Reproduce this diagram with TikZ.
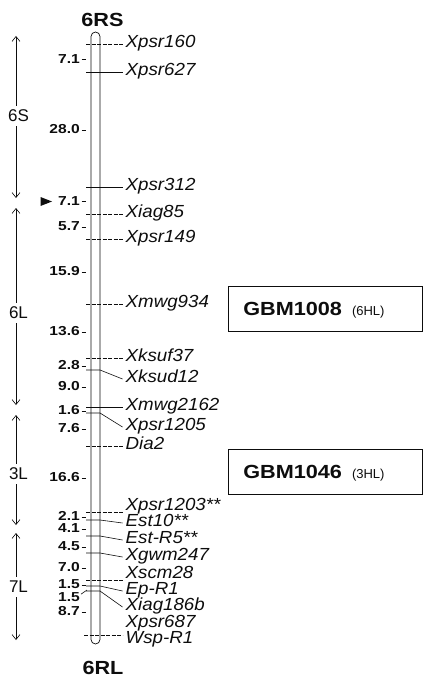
\documentclass[tikz,border=0pt]{standalone}
\usepackage{fontspec}
\setmainfont{Liberation Sans}
\newfontfamily\markfont[FakeStretch=1.07]{Liberation Sans}
\newfontfamily\distfont[FakeStretch=1.2]{Liberation Sans}
\newfontfamily\headfont[FakeStretch=1.14]{Liberation Sans}
\usetikzlibrary{arrows.meta, positioning}
\definecolor{mapInk}{gray}{0.05}

\tikzset{
  chromo/.style={draw, line width=0.7pt, rounded corners=4.5pt, minimum width=9pt, minimum height=612pt, inner sep=0pt},
  locus/.style={anchor=west, inner xsep=3pt, inner ysep=0pt, text height=0.72em, text depth=0pt, font=\markfont\itshape\fontsize{17.5}{17.5}\selectfont},
  dist/.style={anchor=east, inner sep=0pt, text height=0.72em, text depth=0pt, font=\distfont\bfseries\fontsize{13}{13}\selectfont},
  armlabel/.style={inner xsep=1pt, inner ysep=4pt, font=\fontsize{17}{17}\selectfont},
  armarrow/.style={-{Straight Barb[length=5pt,width=8pt]}, line width=0.6pt},
  endlabel/.style={inner sep=0pt, font=\headfont\bfseries\fontsize{19}{19}\selectfont},
  gbmbox/.style={draw, line width=0.6pt, anchor=west, minimum width=194pt, minimum height=45pt, text width=164pt, inner xsep=15pt, align=left, text height=13.7pt, text depth=0pt},
  link/.style={line width=0.6pt},
  faint/.style={line width=0.6pt, dash pattern=on 4pt off 1.5pt},
}
\newcommand{\gbmname}[1]{{\headfont\bfseries\fontsize{19}{19}\selectfont #1}}
\newcommand{\gbmtag}[1]{{\fontsize{13}{13}\selectfont #1}}

\begin{document}
\begin{tikzpicture}[x=1pt, y=-1pt, mapInk]
    \useasboundingbox (0,0) rectangle (423,682);

    % chromosome 6R
    \node[chromo] (chrom) at (95.5,338) {};
    \node[endlabel, above=5pt of chrom.north, xshift=7pt] (rs) {6RS};
    \node[endlabel, below=17pt of chrom.south, xshift=7.5pt] (rl) {6RL};

    % loci
    \node[locus] (psr160)  at (122.5,44)  {Xpsr160};
    \node[locus] (psr627)  at (122.5,72)  {Xpsr627};
    \node[locus] (psr312)  at (122.5,187) {Xpsr312};
    \node[locus] (iag85)   at (122.5,214) {Xiag85};
    \node[locus] (psr149)  at (122.5,239) {Xpsr149};
    \node[locus] (mwg934)  at (122.5,304) {Xmwg934};
    \node[locus] (ksuf37)  at (122.5,358) {Xksuf37};
    \node[locus] (ksud12)  at (122.5,379) {Xksud12};
    \node[locus] (mwg2162) at (122.5,407) {Xmwg2162};
    \node[locus] (psr1205) at (122.5,427) {Xpsr1205};
    \node[locus] (dia2)    at (122.5,446) {Dia2};
    \node[locus] (psr1203) at (122.5,507) {Xpsr1203**};
    \node[locus] (est10)   at (122.5,523) {Est10**};
    \node[locus] (estR5)   at (122.5,540) {Est-R5**};
    \node[locus] (gwm247)  at (122.5,557) {Xgwm247};
    \node[locus] (scm28)   at (122.5,575) {Xscm28};
    \node[locus] (epR1)    at (122.5,591) {Ep-R1};
    \node[locus] (iag186b) at (122.5,607) {Xiag186b};
    \node[locus] (psr687)  at (122.5,624) {Xpsr687};
    \node[locus] (wspR1)   at (122.5,640) {Wsp-R1};

    \draw[faint] (86,44)  -- (psr160.west);
    \draw[link]  (86,72)  -- (psr627.west);
    \draw[link]  (86,187) -- (psr312.west);
    \draw[faint] (86,214) -- (iag85.west);
    \draw[faint] (86,239) -- (psr149.west);
    \draw[faint] (86,304) -- (mwg934.west);
    \draw[faint] (86,358) -- (ksuf37.west);
    \draw[link]  (86,370) -- (100,370) -- (ksud12.west);
    \draw[link]  (86,407) -- (mwg2162.west);
    \draw[link]  (86,413) -- (100,413) -- (psr1205.west);
    \draw[faint] (86,446) -- (dia2.west);
    \draw[faint] (86,512) -- (psr1203.west |- 0,512);
    \draw[link]  (86,520) -- (100,520) -- (est10.west);
    \draw[link]  (86,536) -- (100,536) -- (estR5.west);
    \draw[link]  (86,553) -- (100,553) -- (gwm247.west);
    \draw[faint] (86,580) -- (scm28.west |- 0,580);
    \draw[link]  (86,586) -- (100,586) -- (epR1.west);
    \draw[link]  (86,591) -- (100,591) -- (iag186b.west);
    \draw[faint] (84,635) -- (wspR1.west |- 0,635);

    % map distances (cM)
    \foreach \y/\v [count=\i] in {59.5/7.1, 130/28.0, 201.5/7.1, 227/5.7, 272/15.9,
        332/13.6, 366/2.8, 387/9.0, 411/1.6, 429/7.6, 478/16.6, 517/2.1, 529/4.1,
        547/4.5, 568/7.0, 585/1.5, 612/8.7} {
      \node[dist] (d\i) at (80,\y) {\v};
      \draw[link] ([xshift=1.5pt]d\i.east) -- ++(4.5,0);
    }
    \node[dist] (dx) at (80,598) {1.5};
    \draw[link] ([xshift=1pt]dx.north east) -- (87,590);
    \fill (40.5,197) -- (52,201.5) -- (40.5,206) -- cycle;

    % arms
    \coordinate (sTop) at (16,36);   \coordinate (sBot) at (16,198);
    \coordinate (lTop) at (16,208);  \coordinate (lBot) at (16,405);
    \coordinate (hTop) at (16,415);  \coordinate (hBot) at (16,525);
    \coordinate (tTop) at (16,533);  \coordinate (tBot) at (16,640);
    \node[armlabel] (armS)  at (18.5,116) {6S};
    \node[armlabel] (armL)  at (18.5,313) {6L};
    \node[armlabel] (armH)  at (18.5,474) {3L};
    \node[armlabel] (armT)  at (18.5,587) {7L};
    \draw[armarrow] (sTop |- armS.north) -- (sTop);
    \draw[armarrow] (sTop |- armS.south) -- (sBot);
    \draw[armarrow] (lTop |- armL.north) -- (lTop);
    \draw[armarrow] (lTop |- armL.south) -- (lBot);
    \draw[armarrow] (hTop |- armH.north) -- (hTop);
    \draw[armarrow] (hTop |- armH.south) -- (hBot);
    \draw[armarrow] (tTop |- armT.north) -- (tTop);
    \draw[armarrow] (tTop |- armT.south) -- (tBot);

    % barley addition lines
    \node[gbmbox] (gbmA) at (228,308.5) {\gbmname{GBM1008}\hspace{10pt}\gbmtag{(6HL)}};
    \node[gbmbox] (gbmB) at (228,472)   {\gbmname{GBM1046}\hspace{10pt}\gbmtag{(3HL)}};
\end{tikzpicture}
\end{document}
